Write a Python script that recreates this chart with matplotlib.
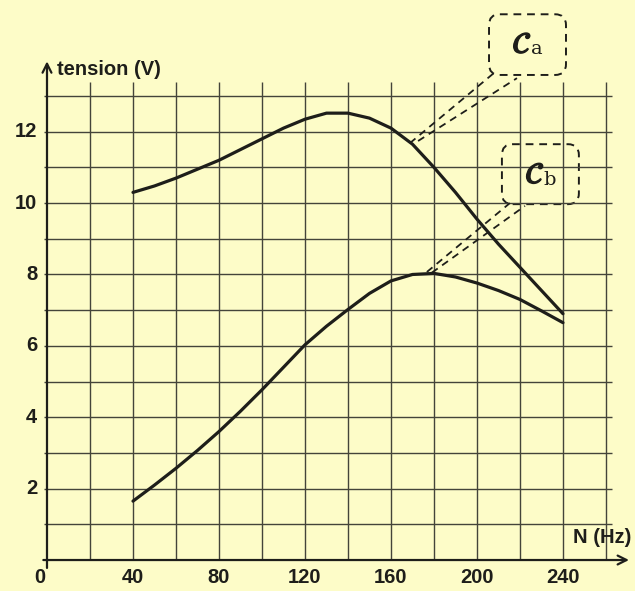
import matplotlib
matplotlib.use('Agg')
import matplotlib.pyplot as plt
import matplotlib.patheffects as pe
from matplotlib.patches import FancyBboxPatch
import numpy as np

# values
N_a = [40, 50, 60, 70, 80, 90, 100, 110, 120, 130, 140, 150, 160, 170, 180, 190, 200, 210, 220, 230, 240]
U_a = [10.3, 10.48, 10.7, 10.95, 11.2, 11.5, 11.8, 12.1, 12.35, 12.52, 12.52, 12.38, 12.1, 11.65, 11.0, 10.3, 9.55, 8.85, 8.2, 7.55, 6.9]
N_b = [40, 50, 60, 70, 80, 90, 100, 110, 120, 130, 140, 150, 160, 170, 180, 190, 200, 210, 220, 230, 240]
U_b = [1.65, 2.1, 2.57, 3.07, 3.6, 4.17, 4.77, 5.4, 6.03, 6.55, 7.02, 7.47, 7.82, 8.0, 8.03, 7.93, 7.76, 7.55, 7.3, 6.98, 6.65]

x_ticks = [40, 80, 120, 160, 200, 240]
y_ticks = [2, 4, 6, 8, 10, 12]
x_grid = np.arange(20, 261, 20)
y_grid = np.arange(1, 14, 1)

bg = '#fdfcc8'
ink = '#1e1e1a'
plt.rcParams['font.family'] = ['Liberation Sans', 'DejaVu Sans']
plt.rcParams['mathtext.fontset'] = 'stix'

fig = plt.figure(figsize=(6.35, 5.91), dpi=100, facecolor=bg)
ax = fig.add_axes([0, 0, 1, 1])
ax.set_facecolor(bg)
ax.set_xlim(-21.86, 273.5)
ax.set_ylim(-0.868, 15.69)
ax.axis('off')

# grid
ax.vlines(x_grid, 0, 13.4, color='#44443a', lw=1.0)
ax.hlines(y_grid, -1.5, 263, color='#44443a', lw=1.0)

# axes with arrows
ax.annotate('', xy=(272, 0), xytext=(-3, 0),
            arrowprops=dict(arrowstyle='->', color=ink, lw=1.6, mutation_scale=16))
ax.annotate('', xy=(0, 14.05), xytext=(0, -0.3),
            arrowprops=dict(arrowstyle='->', color=ink, lw=1.6, mutation_scale=16))

# curves
ax.plot(N_a, U_a, color=ink, lw=2.3, solid_capstyle='round')
ax.plot(N_b, U_b, color=ink, lw=2.3, solid_capstyle='round')

# tick labels
fs = 14.5
for v in x_ticks:
    ax.text(v, -0.48, str(v), ha='center', va='center', fontsize=fs, fontweight='bold', color=ink)
for v in y_ticks:
    ax.text(-4.5, v, str(v), ha='right', va='center', fontsize=fs, fontweight='bold', color=ink)
ax.text(-3.5, -0.48, '0', ha='center', va='center', fontsize=fs, fontweight='bold', color=ink)
ax.text(4.5, 13.73, 'tension (V)', ha='left', va='center', fontsize=fs, fontweight='bold', color=ink)
ax.text(272, 0.62, 'N (Hz)', ha='right', va='center', fontsize=fs, fontweight='bold', color=ink)

# labels of the curves in dashed rounded boxes
asp = 2.15 / 35.7
for (x0, y0, w, h, tx, ty, name) in [(205.6, 13.59, 35.8, 1.7, 223.5, 14.43, 'a'),
                                     (211.6, 9.97, 35.8, 1.68, 229.5, 10.78, 'b')]:
    box = FancyBboxPatch((x0, y0), w, h, boxstyle='round,pad=0,rounding_size=5',
                         mutation_aspect=asp, fill=False, ec=ink, lw=1.4, ls=(0, (4, 3)))
    ax.add_patch(box)
    t = ax.text(tx - 2.5, ty, r'$\mathcal{C}$', ha='center', va='center', fontsize=21, color=ink)
    t.set_path_effects([pe.withStroke(linewidth=1.2, foreground=ink)])
    ax.text(tx + 4.5, ty - 0.12, name, ha='center', va='center', fontsize=14, color=ink,
            family='DejaVu Serif')

# leader lines
ax.plot([168.8, 208.4], [11.68, 13.67], color=ink, lw=1.3, ls=(0, (4, 3)))
ax.plot([172.6, 218.6], [11.74, 13.5], color=ink, lw=1.3, ls=(0, (4, 3)))
ax.plot([176.7, 215.3], [8.07, 10.0], color=ink, lw=1.3, ls=(0, (4, 3)))
ax.plot([179.0, 222.3], [8.05, 9.92], color=ink, lw=1.3, ls=(0, (4, 3)))

plt.savefig('out.png', dpi=100, facecolor=bg)
